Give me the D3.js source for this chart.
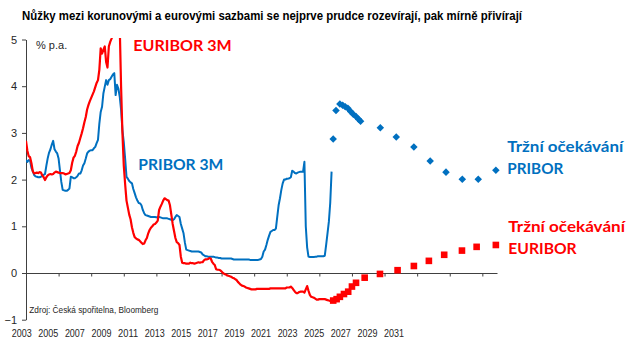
<!DOCTYPE html>
<html><head><meta charset="utf-8">
<script src="https://cdn.jsdelivr.net/npm/d3@7"></script>
<style>
html,body{margin:0;padding:0;background:#fff;}
svg{display:block;}
</style></head>
<body>
<svg id="chart" width="640" height="348"></svg>
<script>
// ---- DATA ----
const title = "Nůžky mezi korunovými a eurovými sazbami se nejprve prudce rozevírají, pak mírně přivírají";
const startYear = 2003; // monthly history starts January 2003
const euriborHist = [
  2.83,2.62,2.50,2.48,2.35,2.18,2.13,2.14,2.15,2.14,2.16,2.15,
  2.09,2.05,1.99,2.05,2.09,2.11,2.12,2.11,2.12,2.15,2.17,2.16,
  2.15,2.14,2.14,2.14,2.13,2.11,2.12,2.13,2.14,2.20,2.36,2.47,
  2.51,2.60,2.72,2.79,2.89,2.99,3.10,3.23,3.34,3.50,3.60,3.68,
  3.75,3.82,3.89,3.98,4.07,4.13,4.35,4.81,4.70,4.78,4.85,4.52,
  4.40,4.85,4.95,5.02,5.10,5.15,5.20,5.20,5.25,5.30,4.00,3.00,
  2.30,1.90,1.55,1.40,1.25,1.15,0.98,0.86,0.77,0.74,0.72,0.71,
  0.68,0.65,0.62,0.63,0.70,0.75,0.85,0.92,0.97,1.00,1.04,1.05,
  1.08,1.12,1.35,1.42,1.48,1.55,1.60,1.58,1.56,1.55,1.45,1.25,
  1.05,0.90,0.75,0.66,0.64,0.60,0.35,0.22,0.21,0.21,0.20,0.20,
  0.20,0.22,0.21,0.21,0.20,0.21,0.22,0.23,0.22,0.23,0.23,0.27,
  0.29,0.29,0.30,0.32,0.31,0.24,0.20,0.17,0.08,0.07,0.07,0.06,
  0.03,0.00,-0.02,-0.03,-0.05,-0.06,-0.07,-0.08,-0.10,-0.11,-0.13,-0.15,
  -0.19,-0.22,-0.25,-0.27,-0.28,-0.29,-0.31,-0.32,-0.33,-0.34,-0.35,-0.35,
  -0.35,-0.35,-0.34,-0.34,-0.34,-0.34,-0.34,-0.34,-0.34,-0.34,-0.34,-0.34,
  -0.33,-0.33,-0.33,-0.33,-0.33,-0.33,-0.33,-0.33,-0.33,-0.33,-0.33,-0.33,
  -0.31,-0.31,-0.31,-0.29,-0.32,-0.36,-0.40,-0.43,-0.43,-0.41,-0.40,-0.40,
  -0.40,-0.42,-0.35,-0.28,-0.38,-0.47,-0.51,-0.52,-0.53,-0.55,-0.57,-0.57,
  -0.56,-0.56,-0.56,-0.56,-0.56,-0.57,-0.58,-0.59,-0.60,-0.60,-0.61
];
const priborHist = [
  2.42,2.38,2.42,2.40,2.25,2.18,2.10,2.07,2.06,2.05,2.05,2.06,
  2.08,2.10,2.12,2.30,2.46,2.58,2.65,2.75,2.83,2.65,2.60,2.56,
  2.45,2.20,1.95,1.78,1.77,1.76,1.76,1.78,1.81,2.06,2.05,2.03,
  2.03,2.05,2.08,2.13,2.13,2.20,2.30,2.35,2.45,2.56,2.60,2.62,
  2.63,2.63,2.67,2.70,2.78,2.85,3.20,3.45,3.56,3.85,3.99,4.13,
  4.03,4.13,4.15,4.20,4.25,4.28,3.81,4.03,3.95,3.78,3.50,3.06,
  2.80,2.45,2.06,2.02,1.97,1.94,1.92,1.80,1.71,1.62,1.55,1.50,
  1.49,1.45,1.35,1.28,1.24,1.23,1.22,1.21,1.20,1.20,1.20,1.20,
  1.19,1.20,1.20,1.19,1.18,1.17,1.17,1.17,1.17,1.16,1.15,1.14,
  1.13,1.15,1.20,1.24,1.22,1.20,1.05,0.95,0.85,0.65,0.50,0.49,
  0.48,0.47,0.46,0.46,0.46,0.46,0.46,0.46,0.45,0.44,0.40,0.38,
  0.36,0.36,0.35,0.35,0.35,0.35,0.35,0.34,0.33,0.33,0.32,0.32,
  0.31,0.31,0.31,0.31,0.31,0.31,0.31,0.31,0.30,0.29,0.29,0.29,
  0.29,0.29,0.29,0.29,0.29,0.29,0.29,0.29,0.29,0.28,0.28,0.28,
  0.28,0.28,0.28,0.28,0.29,0.30,0.35,0.46,0.50,0.60,0.71,0.80,
  0.88,0.90,0.92,0.92,0.95,1.20,1.45,1.60,1.78,1.92,2.00,2.00,
  2.02,2.02,2.03,2.05,2.19,2.17,2.14,2.13,2.15,2.16,2.17,2.17,
  2.17,2.38,1.00,0.55,0.35,0.34,0.34,0.34,0.34,0.35,0.35,0.36,
  0.36,0.36,0.36,0.36,0.37,0.60,0.85,1.10,1.50,2.17
];
const priborFcDates  = [2021.85,2022.02,2022.26,2022.43,2022.59,2022.75,2022.92,2023.08,2023.25,2023.41,2023.53,2024.74,2025.72,2026.80,2027.80,2028.77,2029.77,2030.75,2031.83];
const priborFcValues = [2.87,3.48,3.62,3.59,3.56,3.53,3.46,3.40,3.35,3.29,3.25,3.11,2.91,2.70,2.40,2.16,2.01,2.01,2.20];
const euriborFcDates  = [2021.85,2022.06,2022.26,2022.51,2022.77,2023.00,2023.25,2023.78,2024.72,2025.80,2026.80,2027.72,2028.66,2029.75,2030.65,2031.83];
const euriborFcValues = [-0.59,-0.56,-0.51,-0.45,-0.40,-0.29,-0.21,-0.10,-0.02,0.06,0.15,0.26,0.39,0.48,0.56,0.60];
const yTicks = [-1,0,1,2,3,4,5];
const xTickYears = [2003,2005,2007,2009,2011,2013,2015,2017,2019,2021,2023,2025,2027,2029,2031];
const xLabels = ["2003","2005","2007","2009","2011","2013","2015","2017","2019","2021","2023","2025","2027","2029","2031"];

// ---- CHART ----
const RED = "#ff0000", BLUE = "#0070c0", AX = "#404040";
const svg = d3.select("#chart");
const x = d3.scaleLinear().domain([2003, 2031.9]).range([26, 497]);
const y = d3.scaleLinear().domain([-1, 5]).range([319.7, 39.5]);
const xLab = d3.scalePoint().domain(xLabels).range([21.7, 394]);

svg.append("text").attr("x", 22).attr("y", 19.5)
  .attr("font-family", "Liberation Sans, Arial, sans-serif").attr("font-weight", "bold")
  .attr("font-size", 12).attr("textLength", 500).attr("lengthAdjust", "spacingAndGlyphs")
  .attr("fill", "#000").text(title);

// y axis
const yAxis = svg.append("g").attr("transform", "translate(26,0)")
  .call(d3.axisLeft(y).tickValues(yTicks).tickSize(4).tickSizeOuter(0).tickFormat(d3.format("d")));
yAxis.select(".domain").attr("stroke", AX);
yAxis.selectAll(".tick line").attr("stroke", AX);
yAxis.selectAll(".tick text").attr("x", -9).attr("font-family", "Liberation Sans, Arial, sans-serif")
  .attr("font-size", 11).attr("fill", "#262626");

// x axis at zero
const xAxis = svg.append("g").attr("transform", `translate(0,${y(0)})`)
  .call(d3.axisBottom(x).tickValues(xTickYears).tickSize(3.5).tickSizeOuter(0).tickFormat(""));
xAxis.select(".domain").attr("stroke", AX);
xAxis.selectAll(".tick line").attr("stroke", AX);

// x labels (positioned along bottom)
svg.append("g").selectAll("text").data(xLabels).join("text")
  .attr("x", d => xLab(d)).attr("y", 337).attr("text-anchor", "middle")
  .attr("font-family", "Liberation Sans, Arial, sans-serif").attr("font-size", 11)
  .attr("textLength", 20).attr("lengthAdjust", "spacingAndGlyphs")
  .attr("fill", "#262626").text(d => d);

// clip
svg.append("clipPath").attr("id", "plotclip").append("rect")
  .attr("x", 26).attr("y", y(5) - 1.5).attr("width", 600).attr("height", y(-1) - y(5) + 1.5);

const plot = svg.append("g").attr("clip-path", "url(#plotclip)");
const line = d3.line().x(d => x(d[0])).y(d => y(d[1]));
const priborPts = priborHist.map((v, i) => [startYear + i / 12, v]);
const euriborPts = euriborHist.map((v, i) => [startYear + i / 12, v]);

plot.append("path").datum(priborPts).attr("d", line)
  .attr("fill", "none").attr("stroke", BLUE).attr("stroke-width", 2).attr("stroke-linejoin", "round");
plot.append("path").datum(euriborPts).attr("d", line)
  .attr("fill", "none").attr("stroke", RED).attr("stroke-width", 2.2).attr("stroke-linejoin", "round");

// forecast markers
const dia = d3.symbol().type(d3.symbolDiamond2).size(36);
plot.append("g").selectAll("path").data(priborFcDates.map((d, i) => [d, priborFcValues[i]])).join("path")
  .attr("transform", d => `translate(${x(d[0])},${y(d[1])})`).attr("d", dia).attr("fill", BLUE);
const sq = 6.6;
plot.append("g").selectAll("rect").data(euriborFcDates.map((d, i) => [d, euriborFcValues[i]])).join("rect")
  .attr("x", d => x(d[0]) - sq / 2).attr("y", d => y(d[1]) - sq / 2)
  .attr("width", sq).attr("height", sq).attr("fill", RED);

// text annotations
const ann = [
  {t: "% p.a.", x: 36, y: 49, c: "#262626", f: "Liberation Sans, Arial, sans-serif", s: 11, w: "normal"},
  {t: "EURIBOR 3M", x: 133.3, y: 50.7, c: RED, len: 98.4},
  {t: "PRIBOR 3M", x: 138.3, y: 170.3, c: BLUE, len: 85},
  {t: "Tržní očekávání", x: 507.3, y: 151.5, c: BLUE, len: 116},
  {t: "PRIBOR", x: 507.3, y: 174.2, c: BLUE, len: 56},
  {t: "Tržní očekávání", x: 508.3, y: 231.7, c: RED, len: 116.7},
  {t: "EURIBOR", x: 508.3, y: 254, c: RED, len: 68.4},
  {t: "Zdroj: Česká spořitelna, Bloomberg", x: 29.3, y: 313, c: "#262626", f: "Liberation Sans, Arial, sans-serif", s: 9, w: "normal", len: 129}
];
svg.append("g").selectAll("text").data(ann).join("text")
  .attr("x", d => d.x).attr("y", d => d.y)
  .attr("font-family", d => d.f || "Lato, 'Open Sans', sans-serif")
  .attr("font-size", d => d.s || 15).attr("font-weight", d => d.w || "bold")
  .attr("fill", d => d.c)
  .each(function(d){ if (d.len) d3.select(this).attr("textLength", d.len).attr("lengthAdjust", "spacingAndGlyphs"); })
  .text(d => d.t);
</script>
</body></html>
